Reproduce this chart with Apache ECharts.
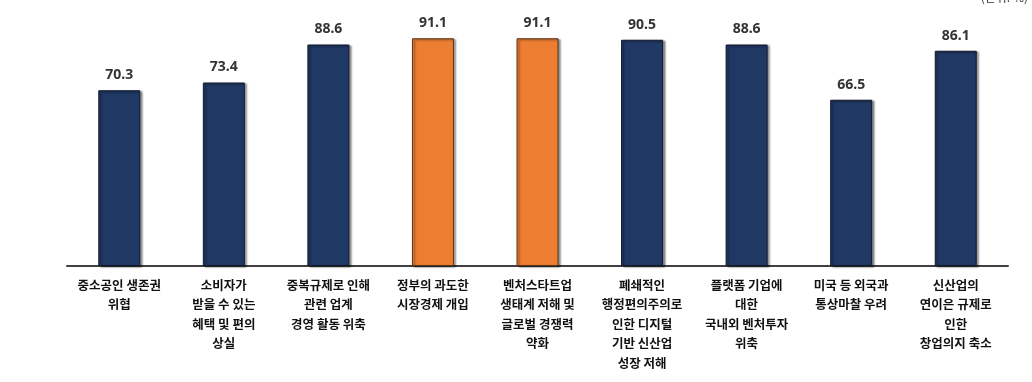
<!DOCTYPE html>
<html><head><meta charset="utf-8">
<script src="https://cdn.jsdelivr.net/npm/echarts@6/dist/echarts.min.js"></script>
<style>html,body{margin:0;padding:0;background:#fff}#c{width:1032px;height:382px}</style>
</head><body><div id="c"></div>
<script>
const categories = [
  '중소공인 생존권\n위협',
  '소비자가\n받을 수 있는\n혜택 및 편의\n상실',
  '중복규제로 인해\n관련 업계\n경영 활동 위축',
  '정부의 과도한\n시장경제 개입',
  '벤처스타트업\n생태계 저해 및\n글로벌 경쟁력\n약화',
  '폐쇄적인\n행정편의주의로\n인한 디지털\n기반 신산업\n성장 저해',
  '플랫폼 기업에\n대한\n국내외 벤처투자\n위축',
  '미국 등 외국과\n통상마찰 우려',
  '신산업의\n연이은 규제로\n인한\n창업의지 축소'
];
const values = [70.3, 73.4, 88.6, 91.1, 91.1, 90.5, 88.6, 66.5, 86.1];
const highlighted = [false, false, false, true, true, false, false, false, false];
const unitText = '(단위: %)';

const navy = '#203864', orange = '#ED7D31';
const chart = echarts.init(document.getElementById('c'));
chart.setOption({
  animation: false,
  graphic: [{type:'text', right: 4, top: -9, style:{text: unitText, fontSize: 12, fill:'#333', fontFamily:'"Noto Sans CJK KR"'}}],
  grid: {left: 67, right: 24, top: 16, bottom: 116},
  xAxis: {
    type: 'category', data: categories,
    axisLine: {lineStyle: {color: '#404040', width: 2}},
    axisTick: {show: false},
    axisLabel: {interval: 0, margin: 9, fontSize: 12.5, fontWeight: 'bold', lineHeight: 19.5,
      color: '#111', fontFamily: '"Noto Sans CJK KR"'}
  },
  yAxis: {type: 'value', min: 0, max: 100, show: false, splitLine: {show: false}},
  series: [{
    type: 'bar', barWidth: 42,
    data: values.map((v, i) => ({value: v, itemStyle: {
      color: highlighted[i] ? orange : navy,
      borderColor: highlighted[i] ? '#5a3418' : '#111a2e', borderWidth: 1,
      shadowColor: 'rgba(0,0,0,0.45)', shadowBlur: 2, shadowOffsetX: 2, shadowOffsetY: 1
    }})),
    label: {show: true, position: 'top', distance: 8, fontSize: 14, fontWeight: 'bold',
      color: '#333', fontFamily: '"Noto Sans", sans-serif'}
  }]
});
</script></body></html>
